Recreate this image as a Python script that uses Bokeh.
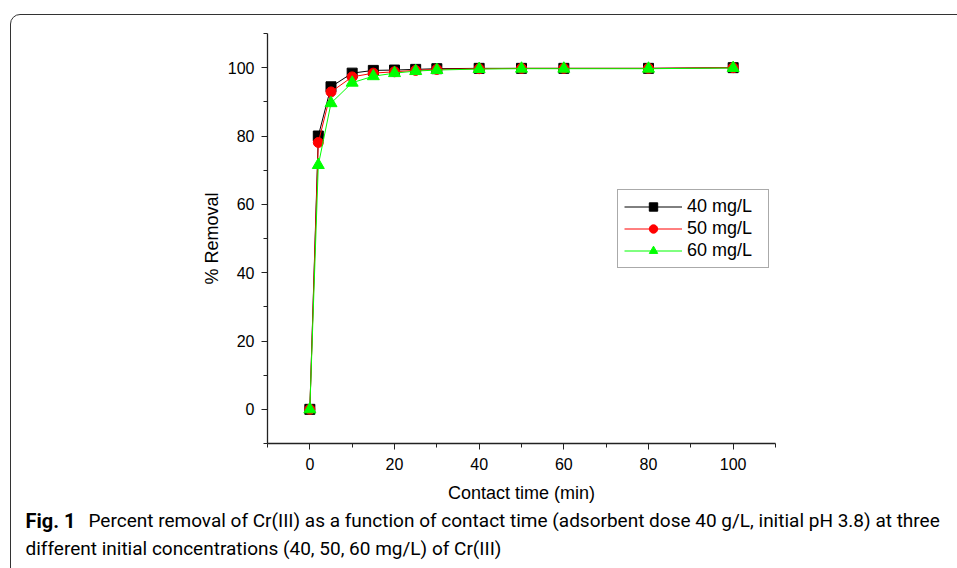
from bokeh.plotting import figure
from bokeh.models import Range1d, FixedTicker, Label, Legend, InlineStyleSheet
from bokeh.layouts import column, row
from bokeh.embed import file_html
from bokeh.resources import INLINE

# ---- data ----
times = [0, 2, 5, 10, 15, 20, 25, 30, 40, 50, 60, 80, 100]
c40 = [0, 80.0, 94.4, 98.4, 99.2, 99.3, 99.5, 99.7, 99.8, 99.8, 99.8, 99.8, 100.0]
c50 = [0, 78.1, 92.9, 97.3, 98.4, 98.8, 99.2, 99.5, 99.7, 99.8, 99.8, 99.8, 100.0]
c60 = [0, 71.5, 89.6, 95.6, 97.5, 98.4, 99.0, 99.3, 99.6, 99.7, 99.7, 99.7, 99.9]
series_labels = ["40 mg/L", "50 mg/L", "60 mg/L"]
x_major = [0, 20, 40, 60, 80, 100]
x_minor = [-10, 10, 30, 50, 70, 90, 110]
y_major = [0, 20, 40, 60, 80, 100]
y_minor = [-10, 10, 30, 50, 70, 90, 110]
x_title = "Contact time (min)"
y_title = "% Removal"
caption_bold = "Fig. 1"
caption_line1 = "Percent removal of Cr(III) as a function of contact time (adsorbent dose 40 g/L, initial pH 3.8) at three"
caption_line2 = "different initial concentrations (40, 50, 60 mg/L) of Cr(III)"

W = 957
H_MAIN = 505
H_CAP = 568 - H_MAIN
FL, FB = 267, 443  # frame left / bottom in canvas px

p = figure(width=W, height=H_MAIN, output_backend="svg", toolbar_location=None,
           x_range=Range1d(-10, 110), y_range=Range1d(-10, 110),
           min_border_left=FL, min_border_right=W - 775,
           min_border_top=33, min_border_bottom=H_MAIN - FB)
p.outline_line_color = None
p.xgrid.visible = False
p.ygrid.visible = False
p.background_fill_color = "white"
p.border_fill_color = "white"

for ax, maj, mnr in ((p.xaxis[0], x_major, x_minor), (p.yaxis[0], y_major, y_minor)):
    ax.ticker = FixedTicker(ticks=maj, minor_ticks=mnr)
    ax.major_tick_in = 0
    ax.major_tick_out = 6
    ax.minor_tick_in = 0
    ax.minor_tick_out = 4
    ax.axis_line_color = "#222222"
    ax.major_tick_line_color = "#222222"
    ax.minor_tick_line_color = "#222222"
    ax.axis_line_width = 1.3
    ax.major_label_text_font = "Liberation Sans"
    ax.major_label_text_font_size = "16px"
    ax.major_label_text_color = "black"
    ax.axis_label_text_font = "Liberation Sans"
    ax.axis_label_text_font_size = "18px"
    ax.axis_label_text_font_style = "normal"
    ax.axis_label_text_color = "black"

p.xaxis.axis_label = x_title
p.yaxis.axis_label = y_title
p.xaxis.major_label_standoff = 8
p.xaxis.axis_label_standoff = 10
p.yaxis.major_label_standoff = 7
p.yaxis.axis_label_standoff = 3

l1 = p.line(times, c40, line_color="black", line_width=1)
m1 = p.scatter(times, c40, marker="square", size=10, fill_color="black", line_color="black")
l2 = p.line(times, c50, line_color="#ff0000", line_width=1)
m2 = p.scatter(times, c50, marker="circle", size=10, fill_color="#ff0000", line_color="#ff0000")
l3 = p.line(times, c60, line_color="#00ff00", line_width=1)
m3 = p.scatter(times, c60, marker="triangle", size=12, fill_color="#00ff00", line_color="#00ff00")

legend = Legend(items=[(series_labels[0], [l1, m1]), (series_labels[1], [l2, m2]),
                       (series_labels[2], [l3, m3])],
                location=(350, 175))
legend.label_text_font = "Liberation Sans"
legend.label_text_font_size = "18px"
legend.label_text_color = "black"
legend.border_line_color = "#555555"
legend.border_line_width = 1
legend.padding = 6
legend.spacing = 1
legend.label_height = 21
legend.glyph_height = 21
legend.glyph_width = 58
legend.label_width = 75
legend.label_standoff = 5
legend.margin = 0
p.add_layout(legend, "center")

# caption strip (frame covers the whole strip; Labels in screen px)
cap = figure(width=W, height=H_CAP, output_backend="svg", toolbar_location=None,
             x_range=Range1d(0, W), y_range=Range1d(0, H_CAP),
             min_border=0, min_border_left=0, min_border_right=0,
             min_border_top=0, min_border_bottom=0)
cap.xaxis.visible = False
cap.yaxis.visible = False
cap.xgrid.visible = False
cap.ygrid.visible = False
cap.outline_line_color = None
cap.background_fill_color = "white"
cap.border_fill_color = "white"

y1 = H_CAP - (520 - H_MAIN)
y2 = H_CAP - (548 - H_MAIN)
cap.add_layout(Label(x=25, y=y1, x_units="screen", y_units="screen",
                     text=caption_bold, text_font="Roboto", text_font_style="bold",
                     text_font_size="20px", text_baseline="middle", text_color="black"))
cap.add_layout(Label(x=88, y=y1, x_units="screen", y_units="screen",
                     text=caption_line1, text_font="Roboto",
                     text_font_size="19px", text_baseline="middle", text_color="black"))
cap.add_layout(Label(x=25, y=y2, x_units="screen", y_units="screen",
                     text=caption_line2, text_font="Roboto",
                     text_font_size="19px", text_baseline="middle", text_color="black"))

css = InlineStyleSheet(css="""
:host { position: relative; overflow: hidden; }
:host::after { content: ""; position: absolute; left: 10px; top: 14px;
  width: 1400px; height: 1400px; border: 1.3px solid #333333; border-radius: 10px;
  box-sizing: border-box; pointer-events: none; }
""")

layout = column(p, row(cap), spacing=0, stylesheets=[css])

open("out.html", "w").write(file_html(layout, INLINE))
